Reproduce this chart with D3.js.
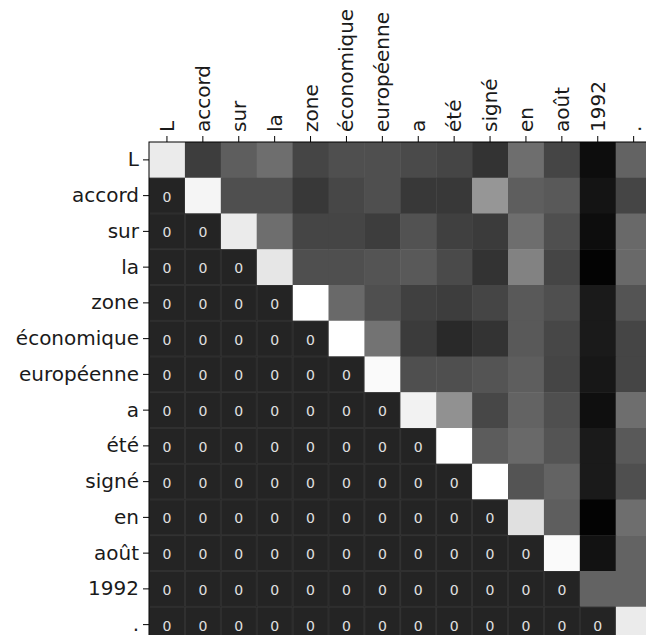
<!DOCTYPE html>
<html>
<head>
<meta charset="utf-8">
<script src="https://cdn.jsdelivr.net/npm/d3@7"></script>
<style>
  body { margin: 0; background: #fff; }
  svg { display: block; }
  text { font-family: "DejaVu Sans", sans-serif; }
</style>
</head>
<body>
<div id="chart-area"></div>
<script>
// tokens on both axes
const tokens = ["L", "accord", "sur", "la", "zone", "économique", "européenne",
                "a", "été", "signé", "en", "août", "1992", "."]

// attention weights, upper triangle only (row i starts at column i)
const row0  = [0.92, 0.24, 0.37, 0.43, 0.27, 0.31, 0.31, 0.29, 0.27, 0.20, 0.43, 0.27, 0.05, 0.39]
const row1  = [0.96, 0.31, 0.31, 0.22, 0.28, 0.31, 0.22, 0.22, 0.59, 0.37, 0.35, 0.08, 0.27]
const row2  = [0.92, 0.43, 0.27, 0.27, 0.24, 0.32, 0.25, 0.23, 0.43, 0.31, 0.05, 0.41]
const row3  = [0.90, 0.31, 0.31, 0.33, 0.35, 0.29, 0.20, 0.51, 0.27, 0.01, 0.41]
const row4  = [1.00, 0.41, 0.31, 0.25, 0.24, 0.27, 0.35, 0.31, 0.10, 0.33]
const row5  = [1.00, 0.45, 0.23, 0.16, 0.20, 0.35, 0.28, 0.10, 0.27]
const row6  = [0.98, 0.31, 0.31, 0.33, 0.37, 0.27, 0.09, 0.27]
const row7  = [0.95, 0.57, 0.28, 0.39, 0.31, 0.06, 0.43]
const row8  = [1.00, 0.36, 0.41, 0.33, 0.10, 0.35]
const row9  = [1.00, 0.33, 0.39, 0.10, 0.31]
const row10 = [0.88, 0.37, 0.01, 0.43]
const row11 = [0.98, 0.07, 0.39]
const row12 = [0.39, 0.39]
const row13 = [0.92]
const rows = [row0, row1, row2, row3, row4, row5, row6, row7, row8, row9, row10, row11, row12, row13]

// masked (lower triangle) cells show this value
const maskedLabel = "0"

const w = 646
const h = 635
const marginLeft = 149
const marginTop = 142
const cellW = 35.9
const cellH = 35.75

const cells = []
rows.forEach((r, i) => {
  tokens.forEach((t, j) => {
    if (j >= i) cells.push({ row: tokens[i], col: t, value: r[j - i], masked: false })
    else cells.push({ row: tokens[i], col: t, value: 0, masked: true })
  })
})

const svg = d3.select("#chart-area")
  .append("svg")
  .attr("width", w)
  .attr("height", h)

const x = d3.scaleBand().domain(tokens).range([marginLeft, marginLeft + cellW * tokens.length])
const y = d3.scaleBand().domain(tokens).range([marginTop, marginTop + cellH * tokens.length])
const gray = d3.scaleLinear().domain([0, 1]).range(["#000000", "#ffffff"])

svg.selectAll("rect.cell")
  .data(cells)
  .enter()
  .append("rect")
  .attr("class", "cell")
  .attr("x", d => x(d.col))
  .attr("y", d => y(d.row))
  .attr("width", x.bandwidth() + 0.5)
  .attr("height", y.bandwidth() + 0.5)
  .attr("fill", d => d.masked ? "#242424" : gray(d.value))

svg.selectAll("rect.mask-line")
  .data(cells.filter(d => d.masked))
  .enter()
  .append("rect")
  .attr("class", "mask-line")
  .attr("x", d => x(d.col) + 0.5)
  .attr("y", d => y(d.row) + 0.5)
  .attr("width", x.bandwidth() - 1)
  .attr("height", y.bandwidth() - 1)
  .attr("fill", "none")
  .attr("stroke", "#343434")
  .attr("stroke-width", 0.8)

svg.selectAll("text.cell-label")
  .data(cells.filter(d => d.masked))
  .enter()
  .append("text")
  .attr("class", "cell-label")
  .attr("x", d => x(d.col) + x.bandwidth() / 2)
  .attr("y", d => y(d.row) + y.bandwidth() / 2 + 1)
  .attr("text-anchor", "middle")
  .attr("dominant-baseline", "central")
  .attr("font-size", 14)
  .attr("fill", "#e0e0e0")
  .text(maskedLabel)

// frame
svg.append("rect")
  .attr("x", marginLeft)
  .attr("y", marginTop)
  .attr("width", cellW * tokens.length)
  .attr("height", cellH * tokens.length)
  .attr("fill", "none")
  .attr("stroke", "#000")
  .attr("stroke-width", 1)

const yAxis = svg.append("g")
  .attr("transform", `translate(${marginLeft},0)`)
  .call(d3.axisLeft(y).tickSize(6).tickPadding(4))
yAxis.select(".domain").remove()
yAxis.selectAll("text")
  .attr("font-size", 20)
  .attr("font-family", "DejaVu Sans")
  .attr("fill", "#1a1a1a")

const xAxis = svg.append("g")
  .attr("transform", `translate(0,${marginTop})`)
  .call(d3.axisTop(x).tickSize(6).tickPadding(4))
xAxis.select(".domain").remove()
xAxis.selectAll("text")
  .attr("font-size", 20)
  .attr("font-family", "DejaVu Sans")
  .attr("fill", "#1a1a1a")
  .attr("text-anchor", "start")
  .attr("dy", "0.35em")
  .attr("x", 0)
  .attr("y", 0)
  .attr("transform", "translate(0,-10) rotate(-90)")
</script>
</body>
</html>
